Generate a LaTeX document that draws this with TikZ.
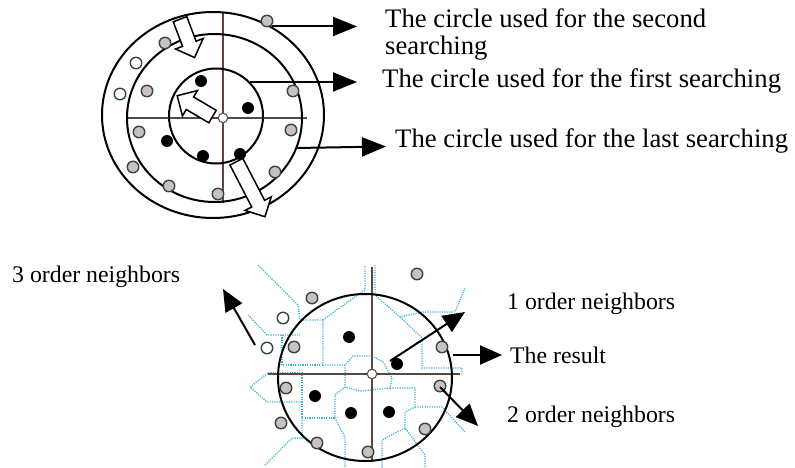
\documentclass[tikz,border=0pt]{standalone}
\usepackage{fontspec}
\setmainfont{Liberation Serif}
\usetikzlibrary{arrows.meta,shapes.arrows}
\definecolor{axisc}{rgb}{0.36,0.28,0.25}
\definecolor{voro}{rgb}{0.25,0.70,0.84}
\definecolor{dotedge}{rgb}{0.20,0.27,0.28}
\definecolor{dotfill}{rgb}{0.80,0.76,0.74}
\newcommand{\toptxt}{\fontsize{26.7pt}{30pt}\selectfont}
\newcommand{\bottxt}{\fontsize{23.8pt}{28pt}\selectfont}
\begin{document}
\begin{tikzpicture}[x=1pt,y=-1pt,
 ring/.style={line width=2pt},
 axis/.style={draw=axisc, line width=1.2pt},
 vor/.style={draw=voro, line width=1.3pt, dash pattern=on 1.2pt off 1.2pt},
 bdot/.style={circle, fill=black, minimum size=12pt, inner sep=0pt},
 gdot/.style={circle, draw=dotedge, line width=1.4pt, fill=dotfill, minimum size=11.5pt, inner sep=0pt},
 wdot/.style={circle, draw=dotedge, line width=1.4pt, fill=white, minimum size=11.5pt, inner sep=0pt},
 cdot/.style={circle, draw=axisc, line width=1pt, fill=white, minimum size=9.5pt, inner sep=0pt},
 hollow/.style={single arrow, draw, fill=white, line width=1.5pt, inner sep=6.5pt,
   single arrow head extend=7.5pt, single arrow head indent=0pt},
 conn/.style={line width=2pt, -{Triangle[length=24pt,width=19pt]}},
 connb/.style={line width=2pt, -{Triangle[length=22pt,width=19pt]}},
 lab/.style={anchor=base west, inner sep=0pt}
]
\useasboundingbox (0,0) rectangle (795,468);

% ---------------- top diagram ----------------
\draw[axis] (223,13) -- (223,203);
\draw[axis] (128,118) -- (307,118);
\draw[ring] (213,115) ellipse [x radius=111pt, y radius=103pt];
\draw[ring] (214.5,118) ellipse [x radius=87.5pt, y radius=84pt];
\draw[ring] (216,116) ellipse [x radius=47pt, y radius=47.5pt];
\node[cdot] (tc) at (223,118) {};

\node[bdot] (tb1) at (201,81) {};
\node[bdot] (tb2) at (248,108) {};
\node[bdot] (tb3) at (167,141) {};
\node[bdot] (tb4) at (203,156) {};
\node[bdot] (tb5) at (240,154) {};
\node[gdot] (tg1) at (267,21) {};
\node[gdot] (tg2) at (165,43) {};
\node[gdot] (tg3) at (147,91) {};
\node[gdot] (tg4) at (293,91) {};
\node[gdot] (tg5) at (291,130) {};
\node[gdot] (tg6) at (139,132) {};
\node[gdot] (tg7) at (133,167) {};
\node[gdot] (tg8) at (275,172) {};
\node[gdot] (tg9) at (169,186) {};
\node[gdot] (tg10) at (218,194) {};
\node[wdot] (tw1) at (136,63) {};
\node[wdot] (tw2) at (120,94) {};

\node[hollow, minimum height=41pt, rotate=-69.3] (h1) at (186,35) {};
\node[hollow, minimum height=41pt, rotate=149.5] (h2) at (198,108) {};
\node[hollow, minimum height=62pt, rotate=-62.6] (h3) at (249,186) {};

\node[lab, font=\toptxt] (t1) at (385,28) {The circle used for the second};
\node[lab, font=\toptxt] (t1b) at (385,55) {searching};
\node[lab, font=\toptxt] (t2) at (382,88) {The circle used for the first searching};
\node[lab, font=\toptxt] (t3) at (395,148) {The circle used for the last searching};

\coordinate (s1) at (272,26.5);
\coordinate (e1) at (357,26.5);
\coordinate (s2) at (250,82);
\coordinate (e2) at (357,82);
\coordinate (s3) at (296,148);
\coordinate (e3) at (386,146.5);
\draw[conn] (s1) -- (e1);
\draw[conn] (s2) -- (e2);
\draw[conn] (s3) -- (e3);

% ---------------- bottom diagram ----------------
\draw[vor] (258,265) -- (298,305) -- (300,320) -- (323,320) -- (323,365) -- (345,365) -- (353,356) -- (372,356);
\draw[vor] (323,320) -- (335,311) -- (365,290) -- (365,265);
\draw[vor] (248,315) -- (267,335) -- (300,335);
\draw[vor] (282,335) -- (282,365) -- (323,365);
\draw[vor] (268,373) -- (250,387) -- (267,402) -- (302,402);
\draw[vor] (268,373) -- (302,373) -- (302,418) -- (335,418);
\draw[vor] (345,365) -- (345,387) -- (335,395) -- (335,418) -- (345,437) -- (345,468);
\draw[vor] (265,465) -- (292,438) -- (302,438) -- (302,418);
\draw[vor] (375,265) -- (375,295) -- (400,317) -- (423,312) -- (455,312) -- (465,288);
\draw[vor] (400,317) -- (422,338) -- (422,368) -- (462,368) -- (462,374);
\draw[vor] (372,356) -- (383,362) -- (392,378) -- (390,388) -- (360,391) -- (348,388) -- (345,387);
\draw[vor] (390,388) -- (415,388) -- (415,407) -- (405,412) -- (405,428) -- (425,455) -- (425,468);
\draw[vor] (415,407) -- (442,407) -- (465,432);
\draw[vor] (405,428) -- (382,440) -- (382,468);

\draw[axis] (372,267) -- (372,462);
\draw[axis] (268,374) -- (460,374);
\draw[ring] (365,377.5) ellipse [x radius=87pt, y radius=83.5pt];
\node[cdot] (bc) at (372,374) {};

\node[bdot] (bb1) at (349,337) {};
\node[bdot] (bb2) at (397,364) {};
\node[bdot] (bb3) at (315,396) {};
\node[bdot] (bb4) at (351,413) {};
\node[bdot] (bb5) at (389,412) {};
\node[gdot] (bg1) at (417,274) {};
\node[gdot] (bg2) at (312,298) {};
\node[gdot] (bg3) at (294,347) {};
\node[gdot] (bg4) at (442,347) {};
\node[gdot] (bg5) at (286,388) {};
\node[gdot] (bg6) at (440,386) {};
\node[gdot] (bg7) at (281,423) {};
\node[gdot] (bg8) at (425,429) {};
\node[gdot] (bg9) at (317,443) {};
\node[gdot] (bg10) at (368,452) {};
\node[wdot] (bw1) at (283,318) {};
\node[wdot] (bw2) at (267,348) {};

\node[lab, font=\bottxt] (n3) at (12,282) {3 order neighbors};
\node[lab, font=\bottxt] (n1) at (507,309) {1 order neighbors};
\node[lab, font=\bottxt] (res) at (510,363) {The result};
\node[lab, font=\bottxt] (n2) at (507,422) {2 order neighbors};

\coordinate (a3s) at (255,345);
\coordinate (a3e) at (223,289);
\coordinate (a1s) at (390,361);
\coordinate (a1e) at (465,312);
\coordinate (ars) at (453,355);
\coordinate (are) at (502,355);
\coordinate (a2s) at (440,387);
\coordinate (a2e) at (478,426);
\draw[connb] (a3s) -- (a3e);
\draw[connb] (a1s) -- (a1e);
\draw[connb] (ars) -- (are);
\draw[connb] (a2s) -- (a2e);
\end{tikzpicture}
\end{document}
